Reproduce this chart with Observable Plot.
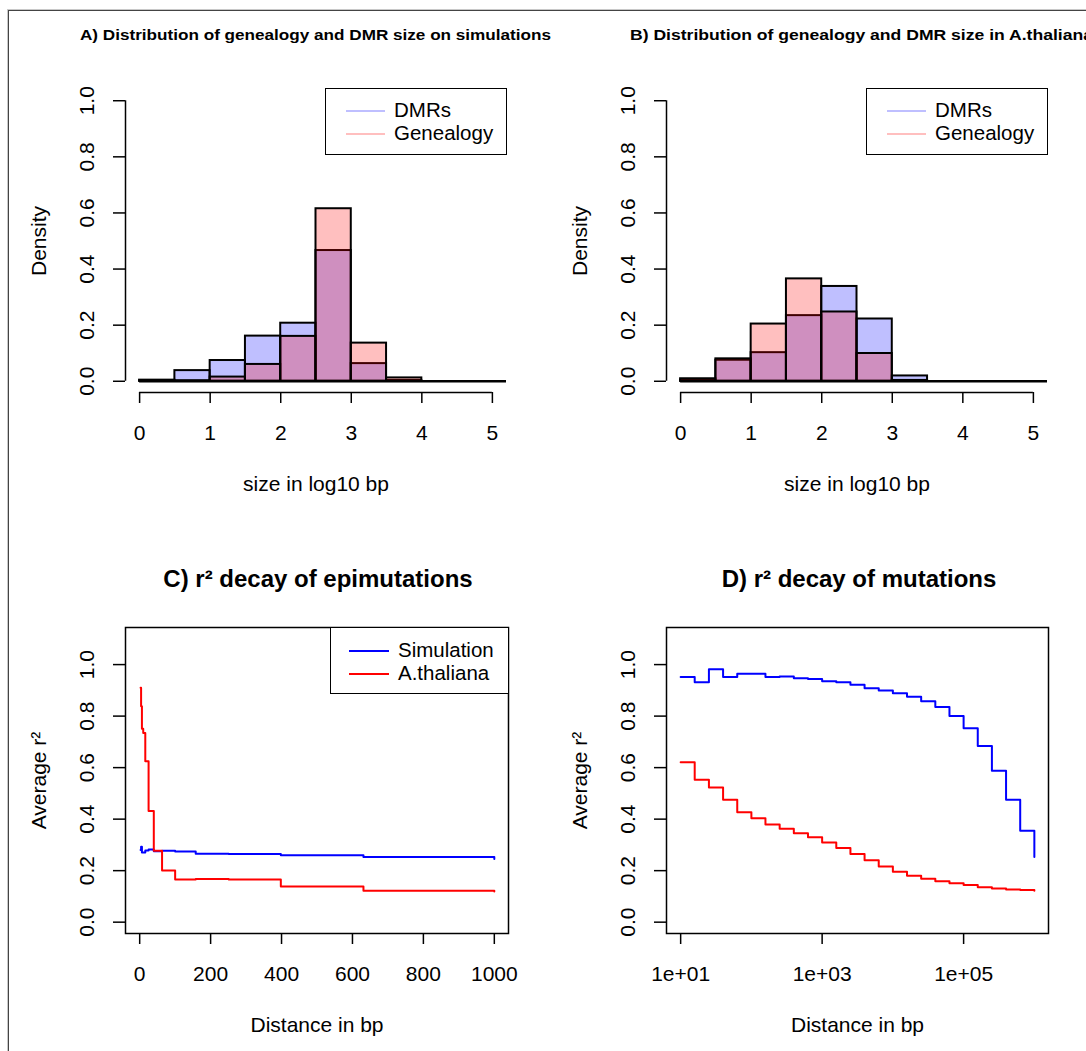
<!DOCTYPE html>
<html>
<head>
<meta charset="utf-8">
<script src="https://cdn.jsdelivr.net/npm/d3@7"></script>
<script src="https://cdn.jsdelivr.net/npm/@observablehq/plot@0.6"></script>
<style>
html, body { margin: 0; padding: 0; background: #fff; }
#root { position: relative; width: 1086px; height: 1051px; overflow: hidden; background: #fff;
  font-family: "Liberation Sans", Arial, Helvetica, sans-serif; }
#root svg { position: absolute; left: 0; top: 0; background: transparent !important; max-width: none; }
.border { position: absolute; left: 8px; top: 10px; width: 2000px; height: 2000px;
  border-left: 1px solid #444; border-top: 1px solid #444; box-shadow: -1px -1px 0 #c8c8c8; }
.legend { position: absolute; border: 1.5px solid #000; background: #fff; box-sizing: border-box; }
.legend .ln { position: absolute; }
.legend .tx { position: absolute; font-size: 20.5px; line-height: 20px; height: 20px; color: #000; white-space: nowrap; }
</style>
</head>
<body>
<div id="root"><div class="border"></div></div>
<script>
// ---------------- data ----------------
const binEdges = [0, 0.5, 1, 1.5, 2, 2.5, 3, 3.5, 4, 4.5, 5, 5.5];
// A) simulations: density per bin
const simDMR       = [0.004, 0.038, 0.074, 0.161, 0.207, 0.466, 0.063, 0.003, 0, 0, 0];
const simGenealogy = [0.002, 0.002, 0.015, 0.060, 0.160, 0.615, 0.136, 0.012, 0, 0, 0];
// B) A.thaliana: density per bin
const athDMR       = [0.004, 0.075, 0.102, 0.234, 0.338, 0.222, 0.019, 0, 0, 0, 0];
const athGenealogy = [0.009, 0.080, 0.204, 0.365, 0.247, 0.099, 0.003, 0, 0, 0, 0];

// C) r2 decay of epimutations
const epiDistance   = [2.51, 3.98, 6.31, 10, 15.8, 25.1, 39.8, 63.1, 100, 158, 251, 398, 631, 1000];
const epiSimulation = [0.280, 0.293, 0.270, 0.270, 0.278, 0.282, 0.275, 0.277, 0.274, 0.266, 0.265, 0.260, 0.253, 0.245];
const epiThaliana   = [0.910, 0.838, 0.751, 0.734, 0.625, 0.432, 0.277, 0.201, 0.166, 0.168, 0.166, 0.138, 0.122, 0.119];

// D) r2 decay of mutations
const mutDistance   = [10, 15.8, 25.1, 39.8, 63.1, 100, 158, 251, 398, 631, 1000, 1585, 2512, 3981, 6310,
                       10000, 15849, 25119, 39811, 63096, 100000, 158489, 251189, 398107, 630957, 1000000];
const mutSimulation = [0.952, 0.931, 0.982, 0.952, 0.964, 0.964, 0.952, 0.954, 0.947, 0.944, 0.935, 0.931, 0.922,
                       0.908, 0.899, 0.889, 0.875, 0.858, 0.835, 0.800, 0.753, 0.684, 0.588, 0.475, 0.355, 0.253];
const mutThaliana   = [0.621, 0.553, 0.523, 0.475, 0.427, 0.403, 0.379, 0.363, 0.345, 0.330, 0.309, 0.288, 0.265,
                       0.240, 0.216, 0.196, 0.180, 0.169, 0.159, 0.151, 0.144, 0.136, 0.131, 0.127, 0.125, 0.122];

const densityTicks = [0, 0.2, 0.4, 0.6, 0.8, 1.0];
const sizeTicks = [0, 1, 2, 3, 4, 5];
const r2Ticks = [0, 0.2, 0.4, 0.6, 0.8, 1.0];
const epiTicks = [0, 200, 400, 600, 800, 1000];
const mutTicks = [10, 1000, 100000];

const titles = {
  A: "A) Distribution of genealogy and DMR size on simulations",
  B: "B) Distribution of genealogy and DMR size in A.thaliana",
  C: "C) r² decay of epimutations",
  D: "D) r² decay of mutations"
};

// ---------------- drawing ----------------
const W = 1086, H = 1051;
const FONT = '"Liberation Sans", Arial, Helvetica, sans-serif';
const FS = 21;
const root = document.getElementById("root");

function textMarks({xTicks, xFmt, yTicks, xLabel, yLabel}) {
  const common = {fontSize: FS, fontFamily: FONT, fill: "black", lineAnchor: "middle", textAnchor: "middle"};
  return [
    Plot.axisX({ticks: xTicks, tickSize: 11, tickFormat: () => "", label: null, strokeWidth: 1.5}),
    Plot.axisY({ticks: yTicks, tickSize: 12, tickFormat: () => "", label: null, strokeWidth: 1.5}),
    Plot.text(xTicks, {x: d => d, text: xFmt, frameAnchor: "bottom", dy: 41, ...common}),
    Plot.text(yTicks, {y: d => d, text: d => d.toFixed(1), frameAnchor: "left", dx: -38, rotate: -90, ...common}),
    Plot.text([xLabel], {text: d => d, frameAnchor: "bottom", dy: 92, ...common}),
    Plot.text([yLabel], {text: d => d, frameAnchor: "left", dx: -86, rotate: -90, ...common})
  ];
}

function histPanel(left, right, dmr, gen) {
  const bins = dmr.map((d, i) => ({x1: binEdges[i], x2: binEdges[i + 1], dmr: d, gen: gen[i]}));
  return Plot.plot({
    width: W, height: H,
    marginLeft: left, marginRight: W - right, marginTop: 89, marginBottom: H - 392,
    style: {background: "transparent", overflow: "visible"},
    x: {domain: [-0.2, 5.2]},
    y: {domain: [-0.04, 1.04]},
    marks: [
      Plot.rect(bins, {x1: "x1", x2: "x2", y1: 0, y2: "dmr", fill: "#0000ff", fillOpacity: 0.25, stroke: "black", strokeWidth: 2, clip: true}),
      Plot.rect(bins, {x1: "x1", x2: "x2", y1: 0, y2: "gen", fill: "#ff0000", fillOpacity: 0.25, stroke: "black", strokeWidth: 2, clip: true}),
      Plot.ruleY([0], {x1: binEdges[0], x2: binEdges[binEdges.length - 1], stroke: "black", strokeWidth: 2.5, clip: true}),
      Plot.ruleX([-0.2], {y1: densityTicks[0], y2: densityTicks[densityTicks.length - 1], strokeWidth: 1.5}),
      Plot.ruleY([-0.04], {x1: sizeTicks[0], x2: sizeTicks[sizeTicks.length - 1], strokeWidth: 1.5}),
      ...textMarks({xTicks: sizeTicks, xFmt: d => String(d), yTicks: densityTicks, xLabel: "size in log10 bp", yLabel: "Density"})
    ]
  });
}

function decayPanel(left, right, xOpts, xs, sim, ath, xTicks, xFmt) {
  const simData = xs.map((x, i) => ({x, y: sim[i]}));
  const athData = xs.map((x, i) => ({x, y: ath[i]}));
  return Plot.plot({
    width: W, height: H,
    marginLeft: left, marginRight: W - right, marginTop: 627, marginBottom: H - 933,
    style: {background: "transparent", overflow: "visible"},
    x: xOpts,
    y: {domain: [-0.044, 1.144]},
    marks: [
      Plot.frame({stroke: "black", strokeWidth: 1.5}),
      Plot.line(simData, {x: "x", y: "y", curve: "step-after", stroke: "#0000ff", strokeWidth: 2}),
      Plot.line(athData, {x: "x", y: "y", curve: "step-after", stroke: "#ff0000", strokeWidth: 2}),
      ...textMarks({xTicks, xFmt, yTicks: r2Ticks, xLabel: "Distance in bp", yLabel: "Average r²"})
    ]
  });
}

root.appendChild(histPanel(125, 506, simDMR, simGenealogy));
root.appendChild(histPanel(666, 1047, athDMR, athGenealogy));
root.appendChild(decayPanel(125, 508, {domain: [-40, 1040]}, epiDistance, epiSimulation, epiThaliana, epiTicks, d => String(d)));
root.appendChild(decayPanel(666, 1048, {type: "log", domain: [Math.pow(10, 0.8), Math.pow(10, 6.2)]}, mutDistance, mutSimulation, mutThaliana,
  mutTicks, d => "1e+" + String(Math.round(Math.log10(d))).padStart(2, "0")));

// titles
const ns = "http://www.w3.org/2000/svg";
const tsvg = document.createElementNS(ns, "svg");
tsvg.setAttribute("width", W); tsvg.setAttribute("height", H);
function addTitle(txt, x, y, size, len, family) {
  const t = document.createElementNS(ns, "text");
  t.setAttribute("x", x); t.setAttribute("y", y);
  t.setAttribute("font-size", size); t.setAttribute("font-weight", "bold");
  t.setAttribute("font-family", family);
  if (len) { t.setAttribute("textLength", len); t.setAttribute("lengthAdjust", "spacingAndGlyphs"); }
  else t.setAttribute("text-anchor", "middle");
  t.textContent = txt;
  tsvg.appendChild(t);
}
addTitle(titles.A, 80, 40, 15, 471, '"Liberation Sans Narrow", "Liberation Sans", Arial, sans-serif');
addTitle(titles.B, 630, 40, 15, 463, '"Liberation Sans Narrow", "Liberation Sans", Arial, sans-serif');
addTitle(titles.C, 318, 587, 24, 0, FONT);
addTitle(titles.D, 859, 587, 24, 0, FONT);
root.appendChild(tsvg);

// legends
function legend(left, top, width, height, lineX1, lineX2, textX, rows) {
  const box = document.createElement("div");
  box.className = "legend";
  Object.assign(box.style, {left: left + "px", top: top + "px", width: width + "px", height: height + "px"});
  rows.forEach(r => {
    const ln = document.createElement("div");
    ln.className = "ln";
    Object.assign(ln.style, {left: (lineX1 - left) + "px", width: (lineX2 - lineX1) + "px",
      top: (r.y - top - r.w / 2) + "px", height: r.w + "px", background: r.color});
    const tx = document.createElement("div");
    tx.className = "tx";
    Object.assign(tx.style, {left: (textX - left) + "px", top: (r.y - top - 11) + "px"});
    tx.textContent = r.label;
    box.appendChild(ln); box.appendChild(tx);
  });
  root.appendChild(box);
}
const histLegend = [
  {label: "DMRs", color: "#bfbfff", y: 109.5, w: 2},
  {label: "Genealogy", color: "#ffbfbf", y: 133, w: 2}
];
legend(325, 88, 182, 67, 345, 384, 393, histLegend);
legend(866, 88, 182, 67, 886, 925, 934, histLegend);
legend(330, 627, 179, 67, 348, 388, 397, [
  {label: "Simulation", color: "#0000ff", y: 649.5, w: 2},
  {label: "A.thaliana", color: "#ff0000", y: 673, w: 2}
]);
</script>
</body>
</html>
